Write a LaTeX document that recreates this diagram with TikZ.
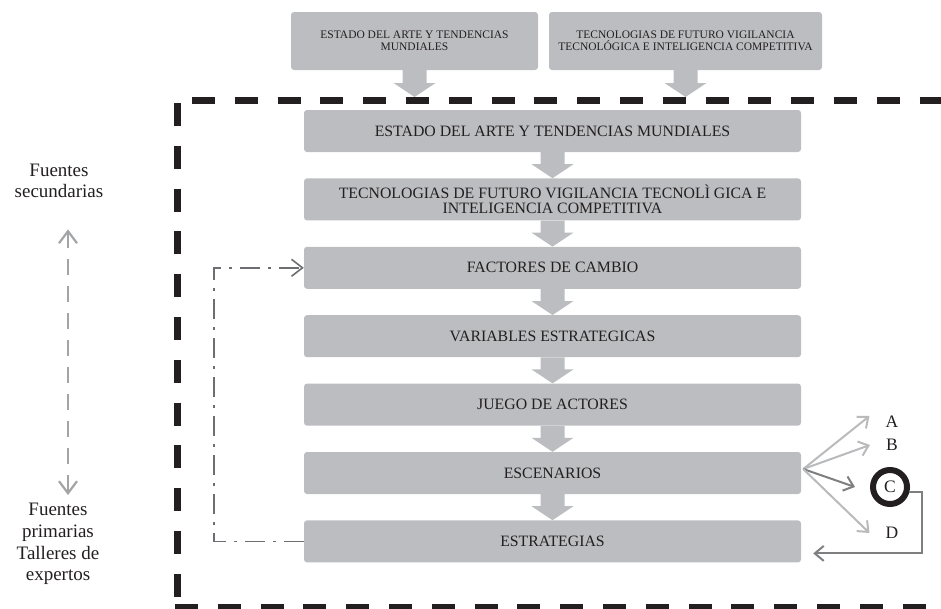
\documentclass[tikz,border=0pt]{standalone}
\usepackage{fontspec}
\setmainfont{Liberation Serif}
\usetikzlibrary{arrows.meta,positioning,calc}
\definecolor{cajagris}{HTML}{BCBDC0}
\definecolor{tinta}{HTML}{231F20}
\definecolor{retro}{HTML}{6D6E71}
\definecolor{flechaclara}{HTML}{B9BABC}
\definecolor{flechaosc}{HTML}{7E7F81}
\definecolor{fuentegris}{HTML}{A3A4A6}

% flecha gruesa entre dos cajas
\newcommand{\flechabloque}[2]{%
  \fill[cajagris] let \p1=(#1), \p2=(#2) in
    (\x1-12pt,\y1) -- (\x1+12pt,\y1) -- (\x1+12pt,\y2+14pt) -- (\x1+21pt,\y2+14pt)
    -- (\x1,\y2) -- (\x1-21pt,\y2+14pt) -- (\x1-12pt,\y2+14pt) -- cycle;}

\begin{document}
\begin{tikzpicture}[x=1pt,y=-1pt,
  caja/.style={fill=cajagris,rounded corners=3pt,minimum width=497pt,minimum height=42pt,
    inner sep=0pt,align=center,text=tinta,font=\fontsize{15.8}{15.5}\selectfont},
  cajasup/.style={caja,minimum height=58pt,font=\fontsize{11.5}{12}\selectfont},
  marco/.style={line width=7pt,tinta,dash pattern=on 23pt off 19.8pt},
  letra/.style={text=tinta,inner sep=0pt,font=\fontsize{17.5}{17.5}\selectfont},
  lado/.style={text=tinta,align=center,inner sep=0pt,font=\fontsize{19}{21.7}\selectfont},
  punta/.style={-{Straight Barb[length=9pt,width=15pt]}},
  node distance=26pt]
  \useasboundingbox (0,0) rectangle (941,608);

  % cajas de arriba
  \node[cajasup,minimum width=247pt] (top1) at (414.5,41) {ESTADO DEL ARTE Y TENDENCIAS\\MUNDIALES};
  \node[cajasup,minimum width=273pt] (top2) at (685.5,41) {TECNOLOGIAS DE FUTURO VIGILANCIA\\TECNOLÓGICA E INTELIGENCIA COMPETITIVA};
  \coordinate (ent1) at (414.5,97);
  \coordinate (ent2) at (685.5,97);
  \flechabloque{top1.south}{ent1}
  \flechabloque{top2.south}{ent2}

  % marco discontinuo
  \draw[marco] (192,100) -- (960,100);
  \draw[marco] (177,103) -- (177,612);
  \draw[marco] (175,607) -- (960,607);

  % cadena central
  \node[caja] (estado) at (552.5,131) {ESTADO DEL ARTE Y TENDENCIAS MUNDIALES};
  \node[caja,below=of estado] (tecno) {TECNOLOGIAS DE FUTURO VIGILANCIA TECNOLÌ GICA E\\INTELIGENCIA COMPETITIVA};
  \node[caja,below=of tecno] (fact) {FACTORES DE CAMBIO};
  \node[caja,below=of fact] (vari) {VARIABLES ESTRATEGICAS};
  \node[caja,below=of vari] (juego) {JUEGO DE ACTORES};
  \node[caja,below=of juego] (esc) {ESCENARIOS};
  \node[caja,below=of esc] (estr) {ESTRATEGIAS};

  \flechabloque{estado.south}{tecno.north}
  \flechabloque{tecno.south}{fact.north}
  \flechabloque{fact.south}{vari.north}
  \flechabloque{vari.south}{juego.north}
  \flechabloque{juego.south}{esc.north}
  \flechabloque{esc.south}{estr.north}

  % retroalimentacion
  \draw[retro,line width=1.6pt,dash pattern=on 20pt off 8pt on 3pt off 8pt,
    -{Straight Barb[length=11pt,width=17pt]}] (estr.west) -- ++(-90,0) |- (fact.west);

  % escenarios A B C D
  \coordinate (abanico) at ([shift={(2,-4)}]esc.east);
  \node[letra] (labA) at (892,422) {A};
  \node[letra] (labB) at (892,445) {B};
  \node[letra,draw=tinta,line width=6pt,circle,minimum size=34pt] (circC) at (890,487) {C};
  \node[letra] (labD) at (892,533) {D};
  \draw[flechaclara,line width=2pt,punta] (abanico) -- ([shift={(-16,-6)}]labA.west);
  \draw[flechaclara,line width=2pt,punta] (abanico) -- ([shift={(-16,0)}]labB.west);
  \draw[flechaosc,line width=2pt,punta] (abanico) -- ([shift={(-15,0)}]circC.west);
  \draw[flechaclara,line width=2pt,punta] (abanico) -- ([shift={(-16,0)}]labD.west);
  \draw[flechaosc,line width=2pt,punta] (circC.-15) -- ++(13,0) |- ([shift={(12,12)}]estr.east);

  % fuentes
  \node[lado] (fsec) at (59,181) {Fuentes\\secundarias};
  \node[lado] (fprim) at (58,544) {Fuentes\\primarias\\Talleres de\\expertos};
  \draw[fuentegris,line width=2.2pt,dash pattern=on 16pt off 11pt,
    {Straight Barb[length=12pt,width=18pt]}-{Straight Barb[length=12pt,width=18pt]}]
    ([xshift=9pt,yshift=-31pt]fsec.south) -- ([xshift=10pt,yshift=8pt]fprim.north);
\end{tikzpicture}
\end{document}
